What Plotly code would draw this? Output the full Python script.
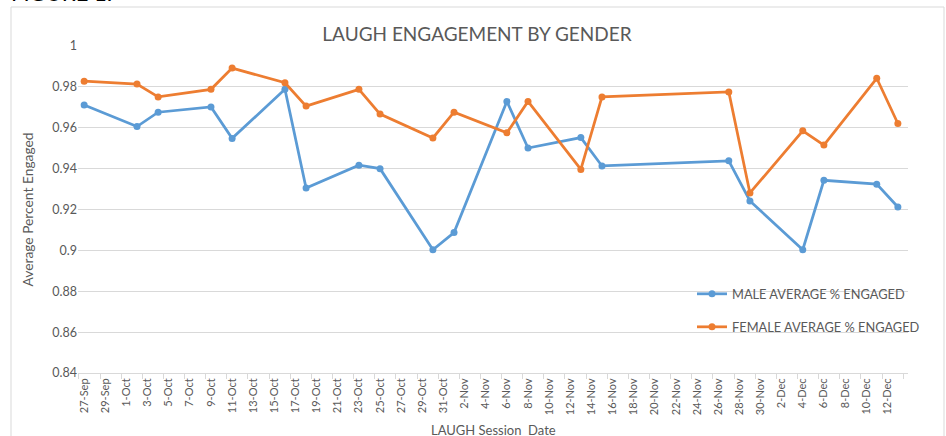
import plotly.graph_objects as go

dates = ["2017-09-27", "2017-10-02", "2017-10-04", "2017-10-09", "2017-10-11", "2017-10-16",
         "2017-10-18", "2017-10-23", "2017-10-25", "2017-10-30", "2017-11-01", "2017-11-06",
         "2017-11-08", "2017-11-13", "2017-11-15", "2017-11-27", "2017-11-29", "2017-12-04",
         "2017-12-06", "2017-12-11", "2017-12-13"]
male = [0.9711, 0.9606, 0.9676, 0.9702, 0.9548, 0.9788, 0.9305, 0.9417, 0.9400, 0.9003, 0.9087,
        0.9729, 0.9501, 0.9552, 0.9413, 0.9438, 0.9242, 0.9003, 0.9343, 0.9324, 0.9212]
female = [0.9828, 0.9814, 0.9751, 0.9788, 0.9892, 0.9820, 0.9706, 0.9788, 0.9667, 0.9550, 0.9676,
          0.9575, 0.9729, 0.9396, 0.9751, 0.9775, 0.9281, 0.9585, 0.9515, 0.9842, 0.9621]

series_names = ["MALE AVERAGE % ENGAGED", "FEMALE AVERAGE % ENGAGED"]
title_text = "LAUGH ENGAGEMENT BY GENDER"
y_title = "Average Percent Engaged"
x_title = "LAUGH Session  Date"

BLUE = "#5B9BD5"
ORANGE = "#ED7D31"
GRAY = "#595959"
FONT = "Lato"

W, H = 946, 436
L, R, T, B = 78, 38, 46, 63
PW, PH = W - L - R, H - T - B


def px_x(x):
    return (x - L) / PW


def px_y(y):
    return (H - B - y) / PH


fig = go.Figure()
fig.add_trace(go.Scatter(x=dates, y=male, name=series_names[0], mode="lines+markers",
                         line=dict(color=BLUE, width=2.75), marker=dict(size=7, color=BLUE),
                         legend="legend", showlegend=True))
fig.add_trace(go.Scatter(x=dates, y=female, name=series_names[1], mode="lines+markers",
                         line=dict(color=ORANGE, width=2.75), marker=dict(size=7, color=ORANGE),
                         legend="legend2", showlegend=True))

fig.update_layout(
    width=W, height=H,
    showlegend=True,
    margin=dict(l=L, r=R, t=T, b=B, autoexpand=False),
    paper_bgcolor="white", plot_bgcolor="white",
    font=dict(family=FONT, color=GRAY, size=12),
    title=dict(text=title_text, x=px_x(477), xanchor="center", xref="paper",
               y=1 - 34 / H, yanchor="middle", automargin=False,
               font=dict(size=19, color=GRAY, family=FONT)),
    legend=dict(x=px_x(692), y=px_y(294), xanchor="left", yanchor="middle",
                bgcolor="rgba(0,0,0,0)", font=dict(size=12.8, color=GRAY)),
    legend2=dict(x=px_x(692), y=px_y(327), xanchor="left", yanchor="middle",
                 bgcolor="rgba(0,0,0,0)", font=dict(size=12.8, color=GRAY)),
    xaxis=dict(
        type="date", automargin=False,
        range=["2017-09-26 10:00", "2017-12-13 23:00"],
        tick0="2017-09-27", dtick=2 * 86400000, tickformat="%-d-%b",
        tickangle=-90, ticks="", showgrid=False, zeroline=False,
        showline=True, linecolor="#d9d9d9", linewidth=1,
        tickfont=dict(size=11, color=GRAY),
        minor=dict(tick0="2017-09-26 12:00", dtick=2 * 86400000, ticks="outside",
                   ticklen=5, tickcolor="#d9d9d9", showgrid=False),
    ),
    yaxis=dict(
        range=[0.84, 1.0], dtick=0.02, tick0=0.84, showgrid=True, gridcolor="#d9d9d9",
        gridwidth=1, zeroline=False, showline=False, ticks="", automargin=False,
        tickfont=dict(size=12.5, color=GRAY),
        title=dict(text=y_title, font=dict(size=13.8, color=GRAY), standoff=15),
    ),
)

# outer chart border
fig.add_shape(type="rect", xref="paper", yref="paper",
              x0=px_x(11), x1=px_x(944), y0=px_y(445), y1=px_y(7),
              line=dict(color="#d9d9d9", width=1), fillcolor="rgba(0,0,0,0)", layer="below")

fig.add_annotation(text=x_title, xref="paper", yref="paper", x=px_x(493), y=px_y(430),
                   xanchor="center", yanchor="middle", showarrow=False,
                   font=dict(size=13, color=GRAY))
fig.add_annotation(text="FIGURE 1:", xref="paper", yref="paper", x=px_x(9), y=px_y(8),
                   xanchor="left", yanchor="bottom", showarrow=False,
                   font=dict(size=22, color="black"))

fig.write_html("out.html", config={"displayModeBar": False},
               post_script="document.body.style.margin='0';document.body.style.overflow='hidden';")
